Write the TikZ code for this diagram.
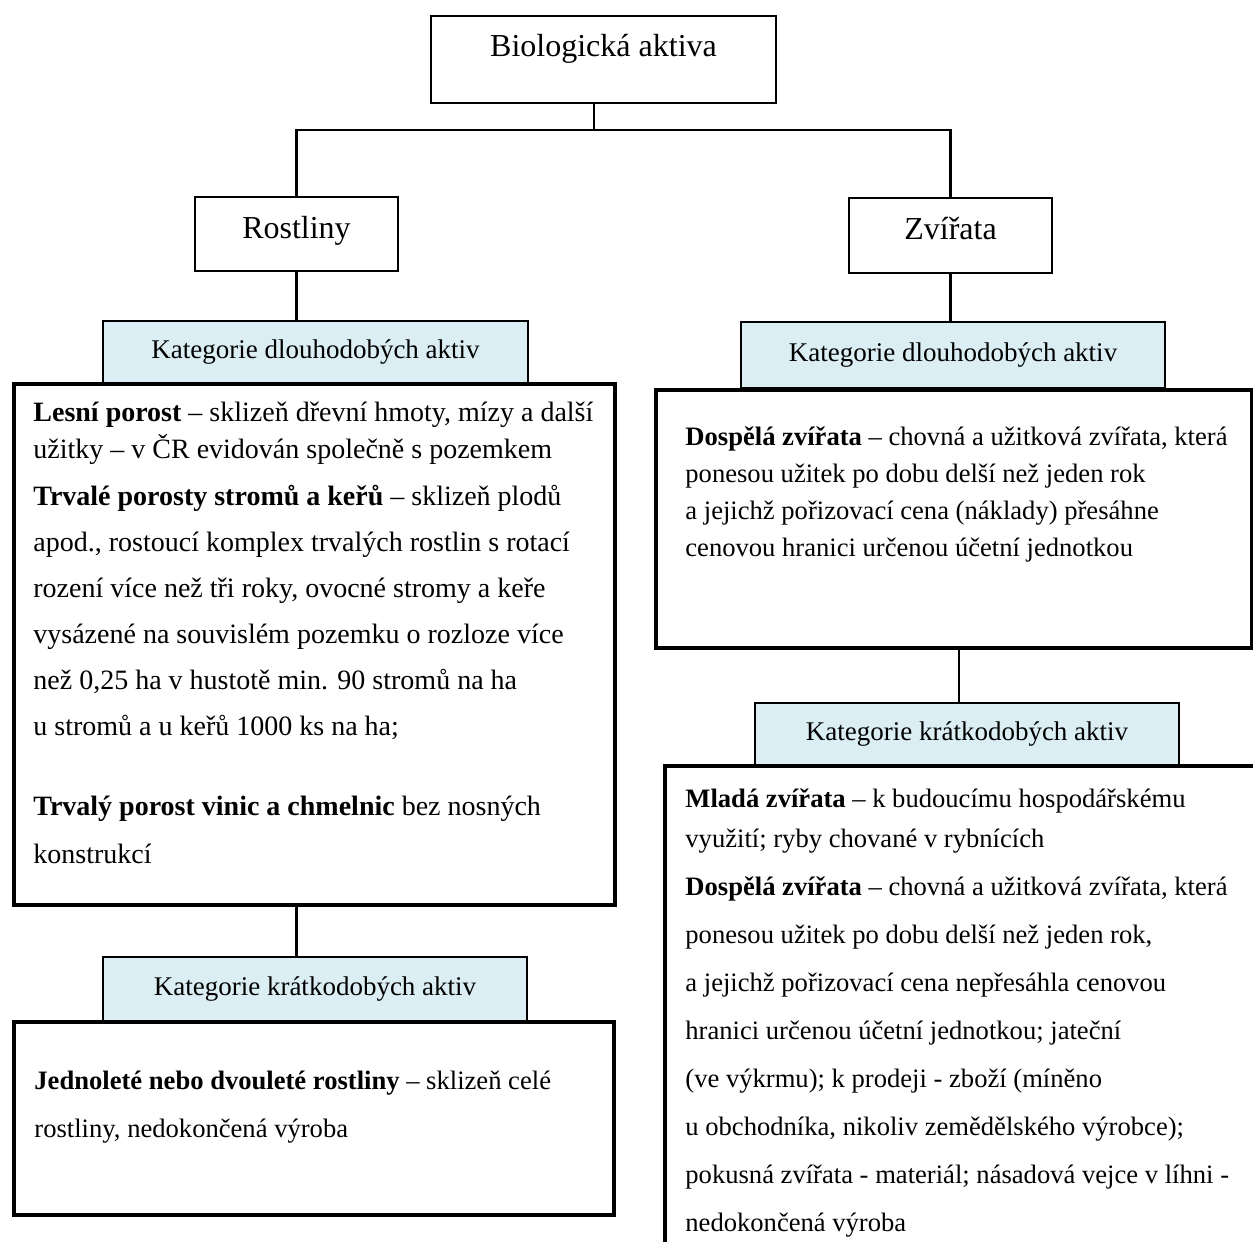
\documentclass[tikz,border=0pt]{standalone}
\usepackage{fontspec}
\setmainfont{Liberation Serif}
\usetikzlibrary{positioning}
\definecolor{kat_blue}{RGB}{219, 238, 243}
\tikzstyle{hb}=[draw=black,line width=1pt,fill=white,inner sep=0pt,
  anchor=north west,font=\fontsize{16}{19}\selectfont]
\tikzstyle{kb}=[draw=black,line width=1pt,fill=kat_blue,inner sep=0pt,
  anchor=north west,font=\fontsize{13.5}{16}\selectfont]
\tikzstyle{bb}=[draw=black,line width=2.2pt,inner sep=0pt,anchor=north west]
\tikzstyle{tx}=[inner sep=0pt,anchor=north west,align=left]
\tikzstyle{ln}=[line width=1.3pt]

\begin{document}
\begin{tikzpicture}[x=0.5pt,y=-0.5pt]
    \clip (0,0) rectangle (1253,1242);
    \fill[white] (0,0) rectangle (1253,1242);
    % headers
    \node [style=hb,minimum width=172.5pt,text height=20pt,text depth=23.5pt] (bio) at (430,15) {Biologická aktiva};
    \node [style=hb,minimum width=101.5pt,text height=20.5pt,text depth=16.5pt] (rost) at (194,196) {Rostliny};
    \node [style=hb,minimum width=101.5pt,text height=20.5pt,text depth=17pt] (zvir) at (848,197) {Zvířata};
    % categories
    \node [style=kb,minimum width=212.5pt,minimum height=31pt] (katdl) at (102,320) {Kategorie dlouhodobých aktiv};
    \node [style=kb,minimum width=212pt,minimum height=33pt] (katdr) at (740,321) {Kategorie dlouhodobých aktiv};
    \node [style=kb,minimum width=212pt,minimum height=31pt] (katkr) at (754,702) {Kategorie krátkodobých aktiv};
    \node [style=kb,minimum width=212pt,minimum height=32pt] (katkl) at (102,956) {Kategorie krátkodobých aktiv};
    % big boxes
    \node [style=bb,minimum width=300.5pt,minimum height=260.5pt] (boxl) at (12,382) {};
    \node [style=bb,minimum width=298pt,minimum height=129pt] (boxr) at (654,388) {};
    \node [style=bb,minimum width=300pt,minimum height=96.5pt] (boxkl) at (12,1020) {};
    \node [style=bb,minimum width=320pt,minimum height=260pt] (boxkr) at (663,764) {};
    % texts
    \node [style=tx,font=\fontsize{14}{23}\selectfont] (txl) at (33,402) {\textbf{Lesní porost} – sklizeň dřevní hmoty, mízy a další\\[-4.5pt]
      užitky – v ČR evidován společně s pozemkem\\[0.5pt]
      \textbf{Trvalé porosty stromů a keřů} – sklizeň plodů\\
      apod., rostoucí komplex trvalých rostlin s rotací\\
      rození více než tři roky, ovocné stromy a keře\\
      vysázené na souvislém pozemku o rozloze více\\
      než 0,25 ha v hustotě min. 90 stromů na ha\\
      u stromů a u keřů 1000 ks na ha;\\[17pt]
      \textbf{Trvalý porost vinic a chmelnic} bez nosných\\[1pt]
      konstrukcí};
    \node [style=tx,font=\fontsize{13.3}{18.5}\selectfont] (txr) at (685,426) {\textbf{Dospělá zvířata} – chovná a užitková zvířata, která\\
      ponesou užitek po dobu delší než jeden rok\\
      a jejichž pořizovací cena (náklady) přesáhne\\
      cenovou hranici určenou účetní jednotkou};
    \node [style=tx,font=\fontsize{13.3}{24}\selectfont] (txkl) at (34,1071) {\textbf{Jednoleté nebo dvouleté rostliny} – sklizeň celé\\
      rostliny, nedokončená výroba};
    \node [style=tx,font=\fontsize{13.3}{24}\selectfont] (txkr) at (685,788) {\textbf{Mladá zvířata} – k budoucímu hospodářskému\\[-4pt]
      využití; ryby chované v rybnících\\[0pt]
      \textbf{Dospělá zvířata} – chovná a užitková zvířata, která\\
      ponesou užitek po dobu delší než jeden rok,\\
      a jejichž pořizovací cena nepřesáhla cenovou\\
      hranici určenou účetní jednotkou; jateční\\
      (ve výkrmu); k prodeji - zboží (míněno\\
      u obchodníka, nikoliv zemědělského výrobce);\\
      pokusná zvířata - materiál; násadová vejce v líhni -\\
      nedokončená výroba};
    % connectors
    \coordinate (split) at (594,130);
    \draw [style=ln] (bio.south -| split) -- (split);
    \draw [style=ln] (rost.north) |- (split) -| (zvir.north);
    \draw [style=ln] (rost.south) -- (katdl.north -| rost.south);
    \draw [style=ln] (zvir.south) -- (katdr.north -| zvir.south);
    \draw [style=ln] ([xshift=-4pt]katkr.north) -- ([xshift=-4pt]katkr.north |- boxr.south);
    \draw [style=ln] (katkl.north -| rost.south) -- (boxl.south -| rost.south);
\end{tikzpicture}
\end{document}
